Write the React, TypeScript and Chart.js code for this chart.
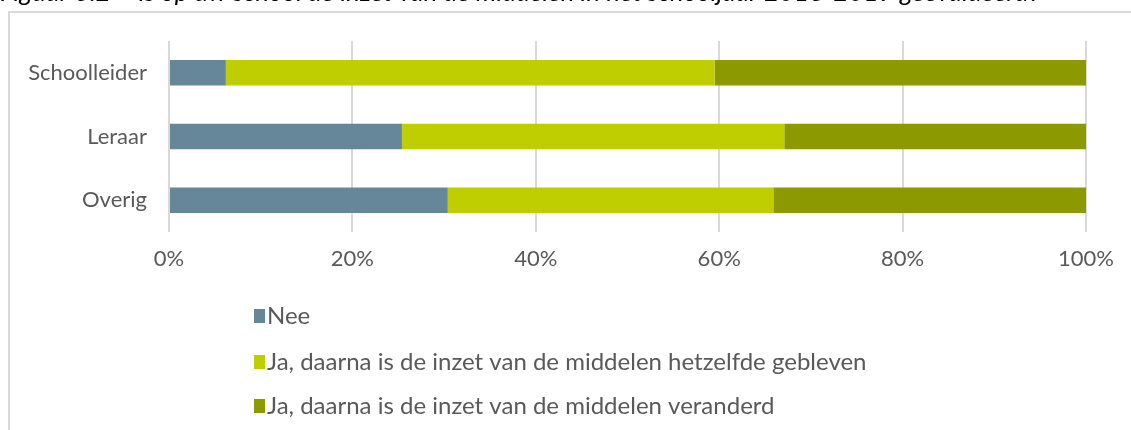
import React, { useEffect, useRef } from "react";
import { Chart, registerables } from "chart.js";

Chart.register(...registerables);

const titleText =
  "Figuur 3.2 \u2013 Is op uw school de inzet van de middelen in het schooljaar 2018-2019 ge\u00EBvalueerd?";
const categories = ["Schoolleider", "Leraar", "Overig"];
const seriesLabels = [
  "Nee",
  "Ja, daarna is de inzet van de middelen hetzelfde gebleven",
  "Ja, daarna is de inzet van de middelen veranderd",
];
const nee = [6.2, 25.4, 30.4];
const hetzelfde = [53.3, 41.7, 35.5];
const veranderd = [40.5, 32.9, 34.1];
const colors = ["#658799", "#BFCE00", "#8C9900"];

const FONT = "Lato, 'Open Sans', sans-serif";
const TEXT_COLOR = "#595959";
const GRID_COLOR = "#D9D9D9";

const framePlugin = {
  id: "frame",
  beforeDraw(chart: any) {
    const ctx = chart.ctx;
    ctx.save();
    ctx.fillStyle = "#ffffff";
    ctx.fillRect(0, 0, chart.width, chart.height);
    // title (cut off at top)
    ctx.fillStyle = "#000000";
    ctx.font = `italic 26px ${FONT}`;
    ctx.textBaseline = "alphabetic";
    ctx.textAlign = "left";
    ctx.fillText(titleText, 0, 1);
    // frame
    ctx.strokeStyle = GRID_COLOR;
    ctx.lineWidth = 2;
    ctx.beginPath();
    ctx.moveTo(9, chart.height);
    ctx.lineTo(9, 12);
    ctx.lineTo(chart.width, 12);
    ctx.stroke();
    ctx.restore();
  },
  afterDraw(chart: any) {
    const ctx = chart.ctx;
    ctx.save();
    ctx.font = `24px ${FONT}`;
    ctx.textBaseline = "middle";
    ctx.textAlign = "left";
    const rows = [316, 362, 406];
    chart.data.datasets.forEach((ds: any, i: number) => {
      const y = rows[i];
      ctx.fillStyle = ds.backgroundColor;
      ctx.fillRect(254, y - 7, 11, 14);
      ctx.fillStyle = TEXT_COLOR;
      ctx.fillText(ds.label, 267, y);
    });
    ctx.restore();
  },
};

export default function App() {
  const ref = useRef<HTMLCanvasElement | null>(null);
  useEffect(() => {
    if (!ref.current) return;
    const chart = new Chart(ref.current, {
      type: "bar",
      data: {
        labels: categories,
        datasets: [
          { label: seriesLabels[0], data: nee, backgroundColor: colors[0] },
          { label: seriesLabels[1], data: hetzelfde, backgroundColor: colors[1] },
          { label: seriesLabels[2], data: veranderd, backgroundColor: colors[2] },
        ],
      },
      options: {
        indexAxis: "y",
        animation: false,
        responsive: false,
        maintainAspectRatio: false,
        layout: { padding: { top: 41, left: 0, right: 45, bottom: 158 } },
        datasets: { bar: { categoryPercentage: 1, barPercentage: 0.4 } },
        plugins: {
          legend: { display: false },
          tooltip: { enabled: false },
          title: { display: false },
        },
        scales: {
          x: {
            stacked: true,
            min: 0,
            max: 100,
            ticks: {
              stepSize: 20,
              padding: 14,
              color: TEXT_COLOR,
              font: { family: FONT, size: 22 },
              callback: (v: any) => `${v}%`,
            },
            grid: { color: GRID_COLOR, lineWidth: 2, drawTicks: false },
            border: { display: false },
            afterFit: (s: any) => {
              s.height = 40;
            },
          },
          y: {
            stacked: true,
            ticks: {
              padding: 14,
              color: TEXT_COLOR,
              font: { family: FONT, size: 22 },
            },
            grid: { display: false },
            border: { display: false },
            afterFit: (s: any) => {
              s.width = 169;
            },
          },
        },
      },
      plugins: [framePlugin],
    });
    return () => chart.destroy();
  }, []);
  return (
    <div style={{ position: "fixed", left: 0, top: 0, width: 1131, height: 430, background: "#fff" }}>
      <canvas ref={ref} width={1131} height={430} style={{ width: 1131, height: 430, display: "block" }} />
    </div>
  );
}
